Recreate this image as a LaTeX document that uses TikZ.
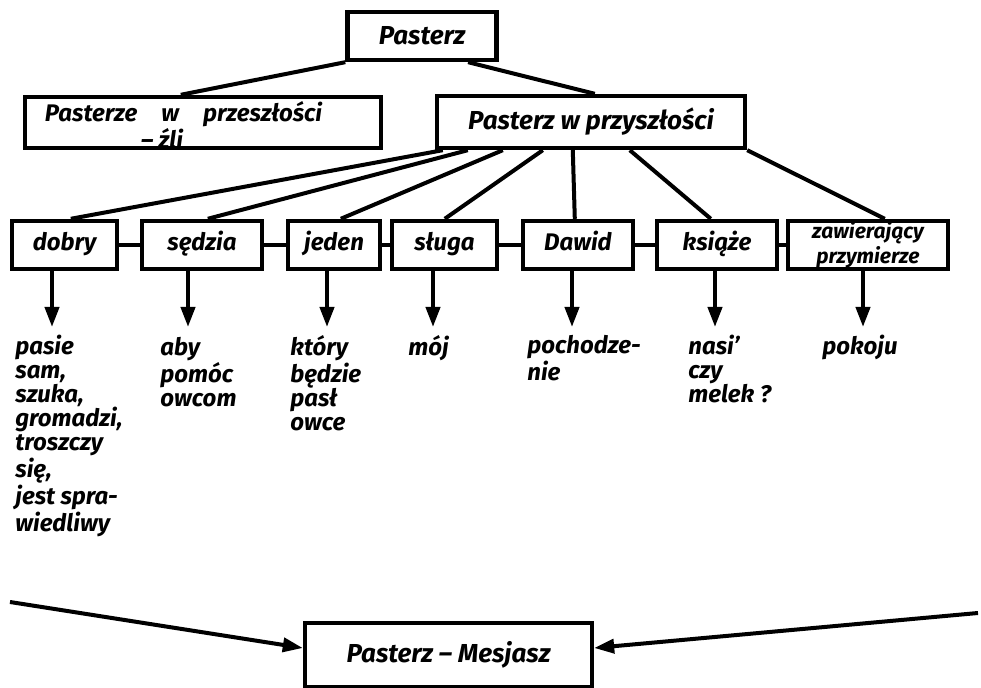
\documentclass[tikz,border=0pt]{standalone}
\usepackage{fontspec}
\setmainfont{Fira Sans}
\usetikzlibrary{calc,arrows.meta}
\begin{document}
\begin{tikzpicture}[x=0.5pt,y=-0.5pt,
  every node/.style={font=\bfseries\itshape\fontsize{12}{12}\selectfont},
  box/.style={draw,line width=2.2pt,inner sep=0pt,align=center},
  rowbox/.style={box,minimum height=24pt,text height=9pt,text depth=3pt},
  link/.style={line width=2pt},
  down/.style={line width=2pt,-{Triangle[length=10pt,width=7pt]}},
  col/.style={anchor=north west,inner sep=0pt,align=left},
  big/.style={font=\bfseries\itshape\fontsize{13}{13}\selectfont}]
\useasboundingbox (0,0) rectangle (981,688);
% top level
\node[box,big,minimum width=74.5pt,minimum height=24pt] (top) at (422,36) {Pasterz};
\node[draw,line width=2.2pt,inner ysep=0pt,inner xsep=10pt,minimum width=178pt,minimum height=25.5pt] (past) at (203,122.5) {\raisebox{-13pt}[0pt][0pt]{\parbox[b]{158pt}{\fontsize{12}{10.5}\selectfont Pasterze\hspace{12pt}w\hspace{12pt}przeszłości\\\hspace*{48pt}– źli}}};
\node[box,big,minimum width=154pt,minimum height=26pt] (fut) at (591,122) {Pasterz w przyszłości};
\draw[link] (top.south west) -- ($(past.north west)+(158,0)$);
\draw[link] ($(top.south west)!0.8!(top.south east)$) -- ($(fut.north west)+(160,0)$);
% row
\node[rowbox,minimum width=52.5pt] (dobry) at (64.5,245) {dobry};
\node[rowbox,minimum width=60pt] (sedzia) at (202,245) {sędzia};
\node[rowbox,minimum width=46pt] (jeden) at (334,245) {jeden};
\node[rowbox,minimum width=52.5pt] (sluga) at (444.5,245) {sługa};
\node[rowbox,minimum width=55pt] (dawid) at (578,245) {Dawid};
\node[rowbox,minimum width=60pt] (ksiaze) at (717,245) {książe};
\node[box,minimum width=80pt,minimum height=24pt,font=\bfseries\itshape\fontsize{10.5}{10}\selectfont] (zaw) at (868,245) {zawierający\\przymierze};
\foreach \a/\b in {dobry/sedzia,sedzia/jeden,jeden/sluga,sluga/dawid,dawid/ksiaze,ksiaze/zaw}
  \draw[link] (\a.east) -- (\b.west);
% fan from fut
\draw[link] ($(fut.south west)+(8,0)$) -- ($(dobry.north west)+(61,0)$);
\draw[link] ($(fut.south west)+(33,0)$) -- ($(sedzia.north west)+(68,0)$);
\draw[link] ($(fut.south west)+(68,0)$) -- ($(jeden.north west)+(55,0)$);
\draw[link] ($(fut.south west)+(108,0)$) -- ($(sluga.north west)+(55,0)$);
\draw[link] ($(fut.south west)+(138,0)$) -- ($(dawid.north west)+(54,0)$);
\draw[link] ($(fut.south west)+(195,0)$) -- ($(ksiaze.north west)+(56,0)$);
\draw[link] (fut.south east) -- ($(zaw.north west)+(99,0)$);
% arrow ends
\coordinate (a1) at (52,327);
\coordinate (a2) at (188,327);
\coordinate (a3) at (327,327);
\coordinate (a4) at (433,327);
\coordinate (a5) at (572,327);
\coordinate (a6) at (715,327);
\coordinate (a7) at (863,327);
\draw[down] (dobry.south -| a1) -- (a1);
\draw[down] (sedzia.south -| a2) -- (a2);
\draw[down] (jeden.south -| a3) -- (a3);
\draw[down] (sluga.south -| a4) -- (a4);
\draw[down] (dawid.south -| a5) -- (a5);
\draw[down] (ksiaze.south -| a6) -- (a6);
\draw[down] (zaw.south -| a7) -- (a7);
% texts
\node[col] (t1) at (15,335) {pasie\\sam,\\szuka,\\gromadzi,\\troszczy\\się,\\jest spra-\\wiedliwy};
\node[col] (t2) at (160,337) {aby\\pomóc\\owcom};
\node[col] (t3) at (290,335) {który\\będzie\\pasł\\owce};
\node[col] (t4) at (408,335) {mój};
\node[col] (t5) at (527,335) {pochodze-\\nie};
\node[col] (t6) at (688,335) {nasi’\\czy\\melek ?};
\node[col] (t7) at (822,335) {pokoju};
% bottom
\node[box,big,minimum width=143.5pt,minimum height=32pt] (mes) at (448.5,655) {Pasterz – Mesjasz};
\coordinate (L) at (10,602);
\coordinate (R) at (978,613);
\draw[down] (L) -- ($(mes.west)+(0,-7)$);
\draw[down] (R) -- ($(mes.east)+(0,-7)$);
\end{tikzpicture}
\end{document}
